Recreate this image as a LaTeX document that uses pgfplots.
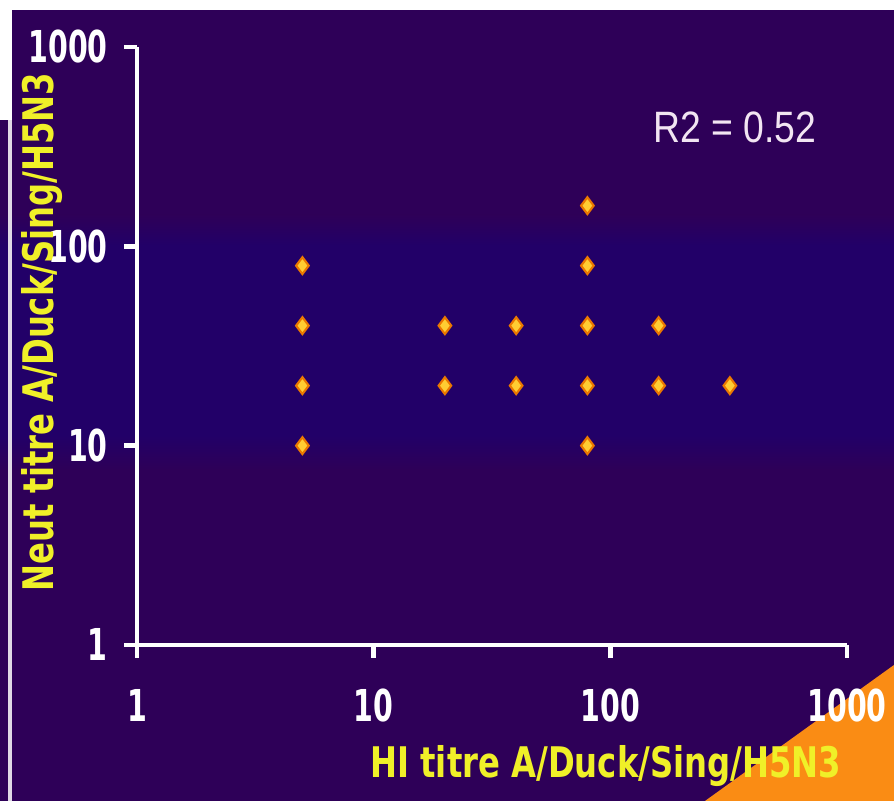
\documentclass[border=0pt]{standalone}
\usepackage{pgfplots}
\pgfplotsset{compat=1.18}
\usepackage{fontspec}
\setmainfont{DejaVu Sans}
\newfontfamily\lab{DejaVu Sans Condensed}
\newfontfamily\arial{Liberation Sans}
\definecolor{bgpurple}{RGB}{46,0,88}
\definecolor{bgblue}{RGB}{34,0,104}
\definecolor{labyellow}{RGB}{240,240,40}
\definecolor{ptfill}{RGB}{255,205,50}
\definecolor{ptedge}{RGB}{235,120,0}
\definecolor{corner}{RGB}{250,140,20}
\newcommand{\tl}[1]{\scalebox{0.72}[1]{#1}}
\newcommand{\al}[1]{\scalebox{0.85}[1]{#1}}

\begin{document}
\begin{tikzpicture}[x=1cm,y=1cm]
\useasboundingbox (0,0) rectangle (8.94,8.01);
% backdrop of the slide, 894 x 801 px at 0.01 cm per px
\fill[bgpurple] (0,0) rectangle (8.94,8.01);
\shade[top color=bgpurple, bottom color=bgblue] (0,5.86) rectangle (8.94,5.56);
\fill[bgblue] (0,5.56) rectangle (8.94,3.66);
\shade[top color=bgblue, bottom color=bgpurple] (0,3.66) rectangle (8.94,3.31);
\fill[white] (0,7.91) rectangle (8.94,8.01);
\fill[white] (0,6.81) rectangle (0.12,8.01);
\draw[white!85!bgpurple, line width=1pt] (0.10,0) -- (0.10,6.81);
\fill[corner] (7.05,0) -- (8.94,1.36) -- (8.94,0) -- cycle;

\begin{axis}[
    at={(1.37cm,1.56cm)}, anchor=south west,
    scale only axis,
    width=7.10cm, height=5.98cm,
    xmode=log, ymode=log,
    xmin=1, xmax=1000, ymin=1, ymax=1000,
    axis lines*=left,
    axis line style={white, line width=1.3pt},
    tick style={white, line width=1.3pt},
    tick align=outside,
    major tick length=0.13cm,
    xminorticks=false, yminorticks=false,
    xtick={1,10,100,1000}, ytick={1,10,100,1000},
    xticklabels={\tl{1},\tl{10},\tl{100},\tl{1000}},
    yticklabels={\tl{1},\tl{10},\tl{100},\tl{1000}},
    ticklabel style={text=white, font=\lab\bfseries\fontsize{12.5}{14}\selectfont},
    xticklabel style={yshift=-0.19cm},
    yticklabel style={xshift=-0.04cm},
    xlabel={\al{HI titre A/Duck/Sing/H5N3}},
    ylabel={\al{Neut titre A/Duck/Sing/H5N3}},
    label style={text=labyellow, font=\lab\bfseries\fontsize{12}{14}\selectfont},
    xlabel style={at={(axis description cs:0.993,-0.202)}, anchor=east, inner sep=0pt},
    ylabel style={at={(axis description cs:-0.134,0.523)}, anchor=center},
    clip=false,
]
\addplot[only marks, mark=diamond*, mark size=2.4pt,
    mark options={fill=ptfill, draw=ptedge, line width=0.6pt}]
    coordinates {
    (5,80)(5,40)(5,20)(5,10)
    (20,40)(20,20)
    (40,40)(40,20)
    (80,160)(80,80)(80,40)(80,20)(80,10)
    (160,40)(160,20)
    (320,20)
    };
\node[text=white!90!violet, font=\arial\fontsize{12.5}{15}\selectfont]
    at (axis description cs:0.842,0.865) {\scalebox{0.85}[1]{R2 = 0.52}};
\end{axis}
\end{tikzpicture}
\end{document}
